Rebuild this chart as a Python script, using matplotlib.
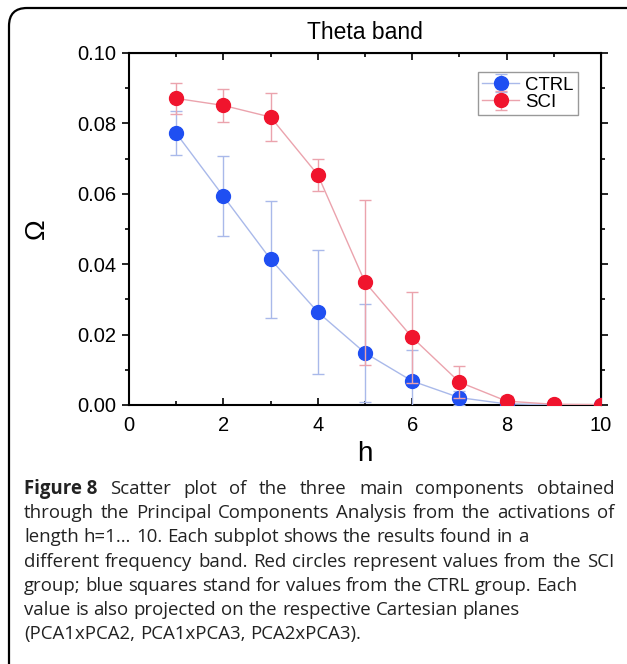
import matplotlib
matplotlib.use("Agg")
import matplotlib.pyplot as plt
from matplotlib.patches import FancyBboxPatch
from matplotlib.transforms import IdentityTransform
from matplotlib.ticker import MultipleLocator

h = [1, 2, 3, 4, 5, 6, 7, 8, 9, 10]
ctrl_mean = [0.0772, 0.0593, 0.0414, 0.0264, 0.0148, 0.0068, 0.0021, 0.0003, 0.0001, 0.0]
ctrl_err = [0.0063, 0.0113, 0.0166, 0.0176, 0.0140, 0.0088, 0.0020, 0.0006, 0.0002, 0.0001]
sci_mean = [0.0871, 0.0851, 0.0818, 0.0654, 0.0349, 0.0192, 0.0065, 0.0011, 0.0002, 0.0001]
sci_err = [0.0044, 0.0046, 0.0069, 0.0046, 0.0234, 0.0130, 0.0045, 0.0015, 0.0003, 0.0001]

caption_lines = [
    ("Figure 8", "Scatter plot of the three main components obtained", True),
    ("", "through the Principal Components Analysis from the activations of", True),
    ("", "length h=1\u2026 10. Each subplot shows the results found in a", False),
    ("", "different frequency band. Red circles represent values from the SCI", True),
    ("", "group; blue squares stand for values from the CTRL group. Each", False),
    ("", "value is also projected on the respective Cartesian planes", False),
    ("", "(PCA1xPCA2, PCA1xPCA3, PCA2xPCA3).", False),
]

W, H = 627, 664
fig = plt.figure(figsize=(W / 100, H / 100), dpi=100)
plt.rcParams["font.family"] = ["Liberation Sans", "DejaVu Sans"]

ax = fig.add_axes([129 / W, 1 - 405 / H, (601 - 129) / W, (405 - 53) / H])

blue, red = "#1f4ff2", "#f0142d"
blue_l, red_l = "#a9b9ea", "#eba3ad"

ax.errorbar(h, ctrl_mean, yerr=ctrl_err, color=blue_l, lw=1, ecolor=blue_l,
            elinewidth=1, capsize=4, capthick=1, marker="o", ms=10,
            mfc=blue, mec=blue, label="CTRL", zorder=3)
ax.errorbar(h, sci_mean, yerr=sci_err, color=red_l, lw=1, ecolor=red_l,
            elinewidth=1, capsize=4, capthick=1, marker="o", ms=10,
            mfc=red, mec=red, label="SCI", zorder=4)

ax.set_xlim(0, 10)
ax.set_ylim(0, 0.10)
ax.xaxis.set_major_locator(MultipleLocator(2))
ax.xaxis.set_minor_locator(MultipleLocator(1))
ax.yaxis.set_major_locator(MultipleLocator(0.02))
ax.yaxis.set_minor_locator(MultipleLocator(0.01))
ax.yaxis.set_major_formatter(matplotlib.ticker.FormatStrFormatter("%.2f"))
ax.tick_params(axis="x", which="both", direction="in", labelsize=14.5, pad=8)
ax.tick_params(axis="y", which="both", direction="out", labelsize=14.5, pad=4)
ax.tick_params(which="major", length=5, width=1.2)
ax.tick_params(which="minor", length=3, width=1.2)
for sp in ax.spines.values():
    sp.set_linewidth(1.5)

top = ax.secondary_xaxis("top")
top.xaxis.set_major_locator(MultipleLocator(2))
top.xaxis.set_minor_locator(MultipleLocator(1))
top.tick_params(which="both", direction="in", labeltop=False, width=1.2)
top.tick_params(which="major", length=5)
top.tick_params(which="minor", length=3)
right = ax.secondary_yaxis("right")
right.yaxis.set_major_locator(MultipleLocator(0.02))
right.yaxis.set_minor_locator(MultipleLocator(0.01))
right.tick_params(which="both", direction="out", labelright=False, width=1.2)
right.tick_params(which="major", length=5)
right.tick_params(which="minor", length=3)

ax.set_title("Theta band", fontsize=16.5, pad=10)
ax.set_xlabel("h", fontsize=20, labelpad=4)
ax.set_ylabel("\u03a9", fontsize=20, labelpad=20)

leg = ax.legend(loc="upper right", bbox_to_anchor=(1 - 23 / 472, 1 - 19 / 352),
                borderaxespad=0, fontsize=13.4, handlelength=2.0, handletextpad=0.3,
                labelspacing=0.0, borderpad=0.25, fancybox=False, framealpha=1)
leg.get_frame().set_edgecolor("#999999")
leg.get_frame().set_linewidth(1)

# rounded outer frame, only top and left edges visible
frame = FancyBboxPatch((9, -60), 800, H - 8 + 60, boxstyle="round,pad=0,rounding_size=18",
                       transform=IdentityTransform(), fill=False, ec="black", lw=1.6)
fig.patches.append(frame)

fs = 13.4
y0 = 489
dy = 24.2
x_left, x_right = 24, 614
fig.canvas.draw()
renderer = fig.canvas.get_renderer()
probe1 = fig.text(0, 0, "a a", fontsize=fs, family="Open Sans")
probe2 = fig.text(0, 0, "aa", fontsize=fs, family="Open Sans")
sw = probe1.get_window_extent(renderer).width - probe2.get_window_extent(renderer).width
probe1.remove()
probe2.remove()
for i, (bold, text, justify) in enumerate(caption_lines):
    yy = 1 - (y0 + i * dy) / H
    words = []
    if bold:
        words.append((bold, "bold"))
    words += [(w, "normal") for w in text.split()]
    arts = []
    for w, weight in words:
        t = fig.text(0, yy, w, fontsize=fs, family="Open Sans", weight=weight,
                     va="center", ha="left", color="#222222")
        arts.append(t)
    widths = [a.get_window_extent(renderer).width for a in arts]
    if justify and len(arts) > 1:
        gap = (x_right - x_left - sum(widths)) / (len(arts) - 1)
    else:
        gap = sw
    x = x_left
    for a, wd in zip(arts, widths):
        a.set_x(x / W)
        x += wd + gap

fig.savefig("out.png", dpi=100)
